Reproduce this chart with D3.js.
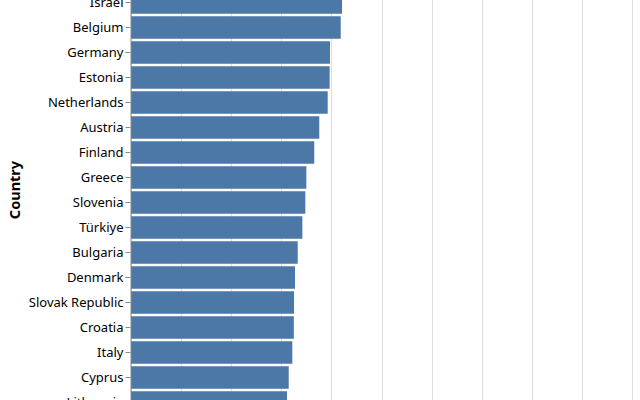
<!DOCTYPE html>
<html>
<head>
<meta charset="utf-8">
<script src="https://cdn.jsdelivr.net/npm/d3@7"></script>
<style>
  body { margin: 0; background: #fff; }
  svg { display: block; }
</style>
</head>
<body>
<svg id="chart" width="640" height="400"></svg>
<script>
// visible slice of the ranked list
const countries = ["Israel", "Belgium", "Germany", "Estonia", "Netherlands", "Austria", "Finland",
    "Greece", "Slovenia", "Türkiye", "Bulgaria", "Denmark", "Slovak Republic", "Croatia",
    "Italy", "Cyprus", "Lithuania"];
const values = [21.06, 20.93, 19.86, 19.83, 19.63, 18.79, 18.29, 17.50, 17.40, 17.10,
    16.64, 16.37, 16.27, 16.25, 16.10, 15.74, 15.57];
const xTicks = [0, 5, 10, 15, 20, 25, 30, 35, 40, 45, 50];

const data = countries.map((c, i) => ({ country: c, value: values[i] }));

// --- Setup ---
const margin = { top: -10, left: 131 };
const width = 501;
const step = 25;
const height = countries.length * step;

const svg = d3.select("#chart")
    .append("g")
    .attr("transform", `translate(${margin.left},${margin.top})`);

// --- Scales ---
const xScale = d3.scaleLinear().domain([0, 50]).range([0, width]);
const yScale = d3.scaleBand()
    .domain(countries)
    .range([0, height])
    .paddingInner(0.1)
    .paddingOuter(0.05);

// --- Grid ---
svg.append("g")
    .attr("class", "grid")
    .selectAll("line")
    .data(xTicks)
    .join("line")
    .attr("x1", d => Math.round(xScale(d)) + 0.5)
    .attr("x2", d => Math.round(xScale(d)) + 0.5)
    .attr("y1", 0)
    .attr("y2", height)
    .attr("stroke", "#ddd");

// --- Bars ---
svg.selectAll(".bar")
    .data(data)
    .join("rect")
    .attr("class", "bar")
    .attr("x", xScale(0))
    .attr("y", d => yScale(d.country))
    .attr("width", d => xScale(d.value))
    .attr("height", yScale.bandwidth())
    .attr("fill", "#4c78a8");

// --- Y axis ---
const yAxis = svg.append("g")
    .attr("transform", "translate(-0.5,0)")
    .call(d3.axisLeft(yScale).tickSize(5).tickPadding(2));
yAxis.select(".domain").attr("stroke", "#888");
yAxis.selectAll(".tick line").attr("stroke", "#888");
yAxis.selectAll("text")
    .attr("fill", "#000")
    .style("font-family", "'Noto Sans', sans-serif")
    .style("font-size", "13px");

// axis title
d3.select("#chart").append("text")
    .attr("transform", "translate(20,190) rotate(-90)")
    .attr("text-anchor", "middle")
    .style("font-family", "'Noto Sans', sans-serif")
    .style("font-size", "14.5px")
    .style("font-weight", "bold")
    .text("Country");
</script>
</body>
</html>
